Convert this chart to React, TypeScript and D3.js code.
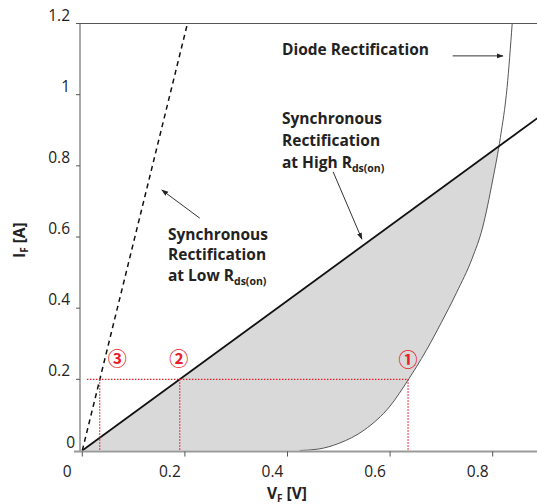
import React from "react";
import * as d3 from "d3";

// ---- data ----
const xTicks = [0, 0.2, 0.4, 0.6, 0.8];
const xTickLabels = ["0", "0.2", "0.4", "0.6", "0.8"];
const yTicks = [0, 0.2, 0.4, 0.6, 0.8, 1.0, 1.2];
const yTickLabels = ["0", "0.2", "0.4", "0.6", "0.8", "1", "1.2"];

// Diode rectification curve (V_F, I_F)
const diodeV = [0.424, 0.46, 0.5, 0.55, 0.6, 0.635, 0.67, 0.7, 0.73, 0.76, 0.78, 0.8, 0.815, 0.828, 0.838];
const diodeI = [0.0, 0.004, 0.02, 0.058, 0.125, 0.198, 0.28, 0.36, 0.445, 0.54, 0.625, 0.76, 0.88, 1.02, 1.2];

// Synchronous rectification, high Rds(on) (solid)
const highV = [0, 0.887];
const highI = [0, 0.934];
// Synchronous rectification, low Rds(on) (dashed)
const lowV = [0, 0.205];
const lowI = [0, 1.2];

// Operating points at I_F = 0.2 A
const opLevel = 0.2;
const opV = [0.034, 0.19, 0.635];
const opLabels = ["③", "②", "①"];
const opLabelV = [0.068, 0.188, 0.635];
const opLabelI = [0.26, 0.26, 0.258];
const refLineStartV = 0.009;

// Annotation arrows
const arrowFromV = [0.722, 0.489, 0.229];
const arrowFromI = [1.109, 0.783, 0.653];
const arrowToV = [0.82, 0.545, 0.155];
const arrowToI = [1.109, 0.594, 0.732];

const W = 537;
const H = 504;

export default function App() {
  const x = d3.scaleLinear().domain([0, 0.9]).range([82.3, 82.3 + 0.9 * 513]);
  const y = d3.scaleLinear().domain([0, 1.2]).range([450.5, 23.5]);
  const plotLeft = 80;
  const plotRight = W;
  const plotTop = y(1.2);
  const plotBottom = y(0);

  const diodePts: [number, number][] = diodeV.map((v, i) => [v, diodeI[i]]);
  const curveLine = d3
    .line<[number, number]>()
    .x((d) => x(d[0]))
    .y((d) => y(d[1]))
    .curve(d3.curveMonotoneX);
  const diodePath = curveLine(diodePts) || "";
  const lineL = d3
    .line<[number, number]>()
    .x((d) => x(d[0]))
    .y((d) => y(d[1]));
  const highPath = lineL(highV.map((v, i) => [v, highI[i]])) || "";
  const lowPath = lineL(lowV.map((v, i) => [v, lowI[i]])) || "";

  // clip region: everything left/above the diode curve
  const clipD =
    `M${plotLeft - 5},${plotBottom + 5}L${x(diodeV[0])},${plotBottom + 5}L${x(diodeV[0])},${plotBottom}` +
    diodePath.replace(/^M/, "L") +
    `L${plotLeft - 5},${plotTop}Z`;
  const shadePath = `M${x(highV[0])},${y(highI[0])}L${x(highV[1])},${y(highI[1])}L${x(highV[1])},${plotBottom}Z`;

  const font = "'Open Sans', 'Noto Sans', sans-serif";
  const red = "#e8202a";
  const txt = "#222";

  const sub = (s: string) => (
    <tspan fontSize={10.5} dy={4}>
      {s}
    </tspan>
  );

  return (
    <svg
      width={W}
      height={H}
      style={{ position: "absolute", left: 0, top: 0, background: "#fff" }}
      fontFamily={font}
    >
      <defs>
        <clipPath id="aboveDiode">
          <path d={clipD} />
        </clipPath>
        <clipPath id="plot">
          <rect x={plotLeft} y={plotTop} width={plotRight - plotLeft} height={plotBottom - plotTop} />
        </clipPath>
        <marker id="arr" viewBox="0 0 10 10" refX="9" refY="5" markerWidth="7" markerHeight="7" orient="auto">
          <path d="M0,1.5L10,5L0,8.5Z" fill="#222" />
        </marker>
      </defs>

      {/* shaded loss region */}
      <path d={shadePath} fill="#d9d9d9" clipPath="url(#aboveDiode)" />

      {/* frame */}
      <line x1={plotLeft} x2={plotRight} y1={plotTop} y2={plotTop} stroke="#555" strokeWidth={1} />
      <line x1={plotLeft} x2={plotLeft} y1={plotTop} y2={plotBottom + 1} stroke="#555" strokeWidth={1} />
      <line x1={74} x2={plotRight} y1={plotBottom + 1} y2={plotBottom + 1} stroke="#9a9a9a" strokeWidth={2} />

      {/* y ticks */}
      {yTicks.map((t, i) => (
        <g key={"y" + i}>
          {i > 0 && <line x1={plotLeft - 4} x2={plotLeft} y1={y(t)} y2={y(t)} stroke="#555" />}
          <text
            x={t === 0 ? 75 : 70}
            y={y(t) - 9}
            textAnchor="end"
            dominantBaseline="central"
            fontSize={15.5}
            fill={txt}
          >
            {yTickLabels[i]}
          </text>
        </g>
      ))}
      {/* x ticks */}
      {xTicks.map((t, i) => (
        <g key={"x" + i}>
          <line x1={x(t)} x2={x(t)} y1={plotBottom + 1} y2={plotBottom + 6} stroke="#555" />
          <text x={x(t) - 15} y={471} textAnchor="middle" dominantBaseline="central" fontSize={15.5} fill={txt}>
            {xTickLabels[i]}
          </text>
        </g>
      ))}

      {/* axis titles */}
      <text x={267} y={499} fontSize={15.5} fontWeight="bold" fill={txt}>
        V<tspan fontSize={10} dy={3}>F</tspan>
        <tspan dy={-3}> [V]</tspan>
      </text>
      <text transform="translate(25,258) rotate(-90)" fontSize={15.5} fontWeight="bold" fill={txt}>
        I<tspan fontSize={10} dy={3}>F</tspan>
        <tspan dy={-3}> [A]</tspan>
      </text>

      {/* curves */}
      <g clipPath="url(#plot)">
        <path d={diodePath} fill="none" stroke="#555" strokeWidth={1} />
        <path d={highPath} fill="none" stroke="#111" strokeWidth={1.8} />
        <path d={lowPath} fill="none" stroke="#111" strokeWidth={1.5} strokeDasharray="5,4" />
      </g>

      {/* reference lines at I_F = 0.2 */}
      <line
        x1={x(refLineStartV)}
        x2={x(opV[2])}
        y1={y(opLevel)}
        y2={y(opLevel)}
        stroke={red}
        strokeWidth={1.2}
        strokeDasharray="1.5,1.5"
      />
      {opV.map((v, i) => (
        <line
          key={"v" + i}
          x1={x(v)}
          x2={x(v)}
          y1={y(opLevel)}
          y2={plotBottom}
          stroke={red}
          strokeWidth={1.2}
          strokeDasharray="1.5,1.5"
        />
      ))}
      {opLabels.map((l, i) => (
        <text
          key={"l" + i}
          x={x(opLabelV[i])}
          y={y(opLabelI[i])}
          textAnchor="middle"
          dominantBaseline="central"
          fontSize={19}
          fontWeight="bold"
          fill={red}
          fontFamily="'Noto Sans CJK KR', sans-serif"
        >
          {l}
        </text>
      ))}

      {/* annotation arrows */}
      {arrowFromV.map((v, i) => (
        <line
          key={"a" + i}
          x1={x(v)}
          y1={y(arrowFromI[i])}
          x2={x(arrowToV[i])}
          y2={y(arrowToI[i])}
          stroke="#333"
          strokeWidth={1}
          markerEnd="url(#arr)"
        />
      ))}

      {/* annotation texts */}
      <g fontSize={15.5} fontWeight="bold" fill={txt}>
        <text x={282} y={55}>Diode Rectification</text>
        <text x={282} y={124}>Synchronous</text>
        <text x={282} y={146}>Rectification</text>
        <text x={282} y={168}>at High R{sub("ds(on)")}</text>
        <text x={168} y={240}>Synchronous</text>
        <text x={168} y={260}>Rectification</text>
        <text x={168} y={281}>at Low R{sub("ds(on)")}</text>
      </g>
    </svg>
  );
}
